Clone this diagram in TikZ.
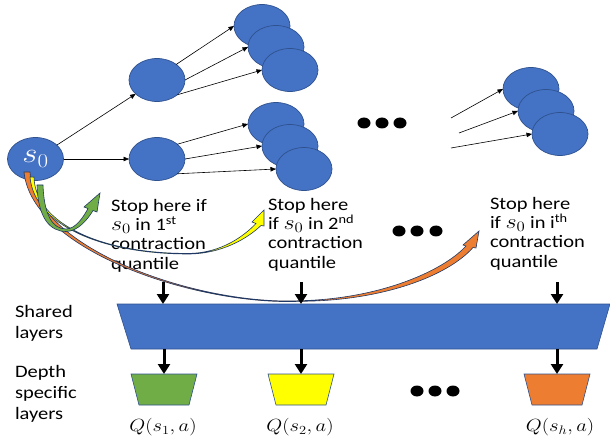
\documentclass[tikz,border=0pt]{standalone}
\usepackage{fix-cm}
\usepackage{fontspec}
\setmainfont{Carlito}[FakeStretch=1.17]
\usepackage{amsmath}
\usetikzlibrary{arrows.meta,shapes.geometric}
\definecolor{nodeblue}{HTML}{4472C4}
\definecolor{edgeblue}{HTML}{2F528F}
\definecolor{bandnavy}{HTML}{1F3864}
\definecolor{qgreen}{HTML}{70AD47}
\definecolor{qyellow}{HTML}{FFFF00}
\definecolor{qorange}{HTML}{ED7D31}
\newcommand{\wmath}[1]{\scalebox{1.17}[1]{$#1$}}
\newcommand{\szero}{{\fontsize{20.5}{19.3}\selectfont\wmath{s_0}}}
\begin{document}
\begin{tikzpicture}[x=1pt,y=-1pt]
\tikzstyle{every node}+=[inner sep=0pt, outer sep=0pt]
\tikzstyle{state}=[ellipse, draw=edgeblue, fill=nodeblue, line width=0.7pt, minimum width=56pt, minimum height=43pt]
\tikzstyle{tarrow}=[-{Triangle[width=4.5pt,length=5.5pt]}, line width=0.6pt, black]
\tikzstyle{feed}=[-{Triangle[width=12pt,length=10pt]}, line width=3pt, black]
\tikzstyle{band}=[draw=bandnavy, line width=0.6pt]
\tikzstyle{layer}=[draw=edgeblue, line width=0.6pt]
\tikzstyle{stoptext}=[anchor=north west, align=left, font=\fontsize{17.5}{19.3}\selectfont]
\tikzstyle{sidetext}=[anchor=north west, align=left, font=\fontsize{17.5}{21}\selectfont]
\tikzstyle{qlabel}=[font=\fontsize{17.6}{17.6}\selectfont]
\tikzstyle{bigdot}=[ellipse, fill=black, minimum width=13pt, minimum height=11pt]
\useasboundingbox (0,0) rectangle (610,438);
\node[state] (n0) at (35.5,159) {\color{white}\fontsize{28}{28}\selectfont\raisebox{-2pt}{\wmath{s_0}}\hspace{6pt}};
\node[state] (n1) at (157,80) {};
\node[state] (n2) at (157,159) {};
\node[state] (n11) at (262,26) {};
\node[state] (n12) at (276,47) {};
\node[state] (n13) at (290,70) {};
\node[state] (n21) at (276,124) {};
\node[state] (n22) at (290,146) {};
\node[state] (n23) at (304,169) {};
\node[state] (nh1) at (531,89) {};
\node[state] (nh2) at (546,111) {};
\node[state] (nh3) at (560,134) {};
\coordinate (f1) at (451,118);
\coordinate (f2) at (459,133);
\coordinate (f3) at (451,148);
\draw[tarrow] (n0) -- (n1);
\draw[tarrow] (n0) -- (n2);
\draw[tarrow] (n1.39) -- (n11.west);
\draw[tarrow] (n1.east) -- (n12.west);
\draw[tarrow] (n1.-36) -- (n13.west);
\draw[tarrow] (n2.36) -- (n21.west);
\draw[tarrow] (n2.east) -- (n22.west);
\draw[tarrow] (n2.-36) -- (n23.west);
\draw[tarrow] (f1) -- (nh1.west);
\draw[tarrow] (f2) -- (nh2.west);
\draw[tarrow] (f3) -- (nh3.west);
\node[bigdot] (da1) at (364,123) {};
\node[bigdot] (da2) at (382,123) {};
\node[bigdot] (da3) at (400,123) {};
\node[bigdot] (db1) at (399,231) {};
\node[bigdot] (db2) at (417,231) {};
\node[bigdot] (db3) at (436,231) {};
\node[bigdot] (dc1) at (417,391) {};
\node[bigdot] (dc2) at (435,391) {};
\node[bigdot] (dc3) at (453,391) {};
\node[stoptext] (t1) at (111,199) {Stop here if\\\szero{} in 1\textsuperscript{st}\\contraction\\quantile};
\node[stoptext] (t2) at (268,198) {Stop here\\if \szero{} in 2\textsuperscript{nd}\\contraction\\quantile};
\node[stoptext] (t3) at (490,197) {Stop here\\if \szero{} in i\textsuperscript{th}\\contraction\\quantile};
\filldraw[band, fill=qorange] (24,172) .. controls (32,252) and (200,306) .. (300,301.3) .. controls (382,301) and (448,276) .. (473,247.5) -- (476,248) -- (479,231) -- (463,245) -- (466,246) .. controls (442,272) and (378,299) .. (300,300.7) .. controls (200,305.5) and (35,250) .. (30,172) -- cycle;
\filldraw[band, fill=qyellow] (30,177) .. controls (34,224) and (100,254) .. (188,254) .. controls (222,254) and (248,238) .. (261,225.5) -- (264,226) -- (264,210) -- (252,222) -- (256,223.5) .. controls (245,235) and (222,253.4) .. (188,253.4) .. controls (100,253.6) and (35,223) .. (34,177) -- cycle;
\filldraw[band, fill=qgreen] (37,185) .. controls (38,218) and (50,231.5) .. (66,231.5) .. controls (78,231.5) and (88,219) .. (93,210.5) -- (97,212) -- (100,193) -- (84,207) -- (88,208.5) .. controls (84,216) and (76,229) .. (66,229) .. controls (52,229) and (44,214) .. (43,185) -- cycle;
\filldraw[layer, fill=nodeblue] (117,304) -- (610,304) -- (597,349) -- (131,349) -- cycle;
\filldraw[layer, fill=qgreen] (131,374) -- (197,374) -- (189,405) -- (139,405) -- cycle;
\filldraw[layer, fill=qyellow] (268,374) -- (334,374) -- (326,405) -- (276,405) -- cycle;
\filldraw[layer, fill=qorange] (524,374) -- (590,374) -- (582,405) -- (532,405) -- cycle;
\coordinate (a1) at (163,282);
\coordinate (a2) at (301,282);
\coordinate (a3) at (557,282);
\coordinate (b1) at (163,304);
\coordinate (b2) at (301,304);
\coordinate (b3) at (557,304);
\coordinate (c1) at (164,349);
\coordinate (c2) at (301,349);
\coordinate (c3) at (557,349);
\coordinate (q1) at (164,374);
\coordinate (q2) at (301,374);
\coordinate (q3) at (557,374);
\draw[feed] (a1) -- (b1);
\draw[feed] (a2) -- (b2);
\draw[feed] (a3) -- (b3);
\draw[feed] (c1) -- (q1);
\draw[feed] (c2) -- (q2);
\draw[feed] (c3) -- (q3);
\node[sidetext] (lshared) at (15,305) {Shared\\layers};
\node[sidetext] (ldepth) at (15,365) {Depth\\specific\\layers};
\node[qlabel] (o1) at (163,427) {\wmath{Q(s_1,a)}};
\node[qlabel] (o2) at (300,427) {\wmath{Q(s_2,a)}};
\node[qlabel] (o3) at (560,427) {\wmath{Q(s_h,a)}};
\end{tikzpicture}
\end{document}
